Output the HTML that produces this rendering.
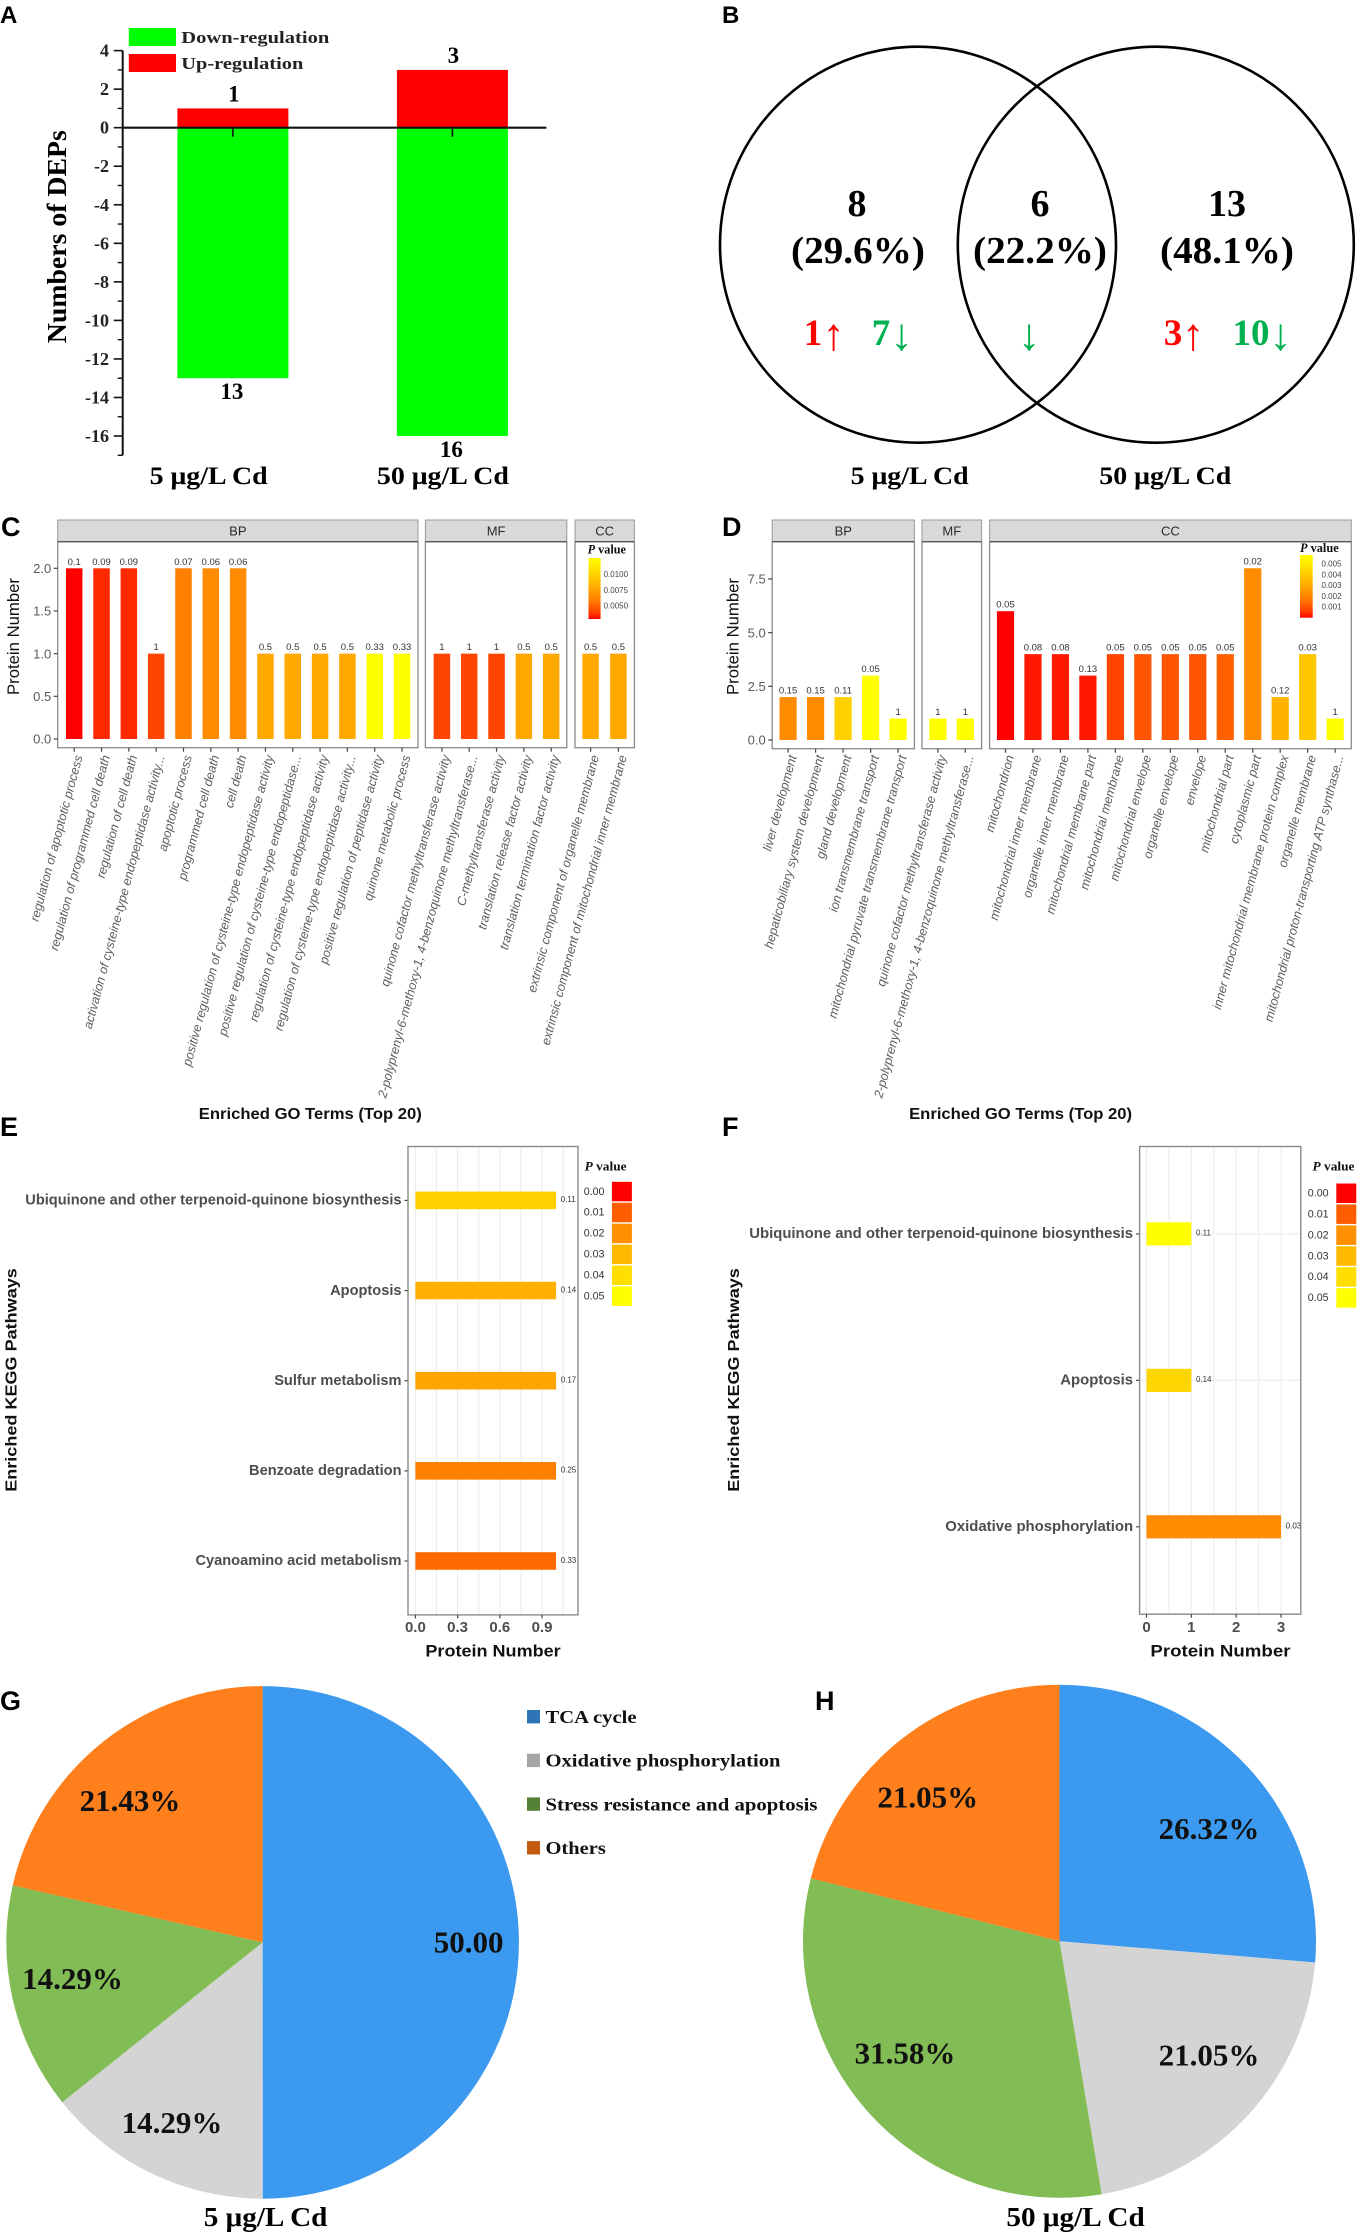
<!DOCTYPE html>
<html lang="en">
<head>
<meta charset="utf-8">
<title>Differentially expressed proteins under Cd exposure</title>
<style>
html,body{margin:0;padding:0;background:#fff;}
svg{display:block;filter:blur(0.35px);}
text{white-space:pre;}
</style>
</head>
<body>
<svg id="figure" xmlns="http://www.w3.org/2000/svg" width="1358" height="2232" viewBox="0 0 1358 2232">
  <defs id="gradients"></defs>
  <rect x="0" y="0" width="1358" height="2232" fill="#fff"></rect>

  <g font-family="'Liberation Sans', sans-serif" font-weight="700" fill="#000">
    <text x="0" y="23" font-size="24">A</text>
    <text x="722" y="23" font-size="24">B</text>
    <text x="1" y="536" font-size="27">C</text>
    <text x="722" y="536" font-size="27">D</text>
    <text x="0" y="1136" font-size="27">E</text>
    <text x="722" y="1136" font-size="27">F</text>
    <text x="0" y="1710" font-size="27">G</text>
    <text x="815" y="1710" font-size="27">H</text>
  </g>

  <g id="venn" font-family="'Liberation Serif', serif" font-weight="700" text-anchor="middle">
    <circle cx="918" cy="244.7" r="198" fill="none" stroke="#000" stroke-width="2.6"></circle>
    <circle cx="1155.8" cy="244.7" r="198" fill="none" stroke="#000" stroke-width="2.6"></circle>
    <text x="857" y="216" font-size="38">8</text>
    <text x="858" y="263" font-size="38" textLength="134" lengthAdjust="spacingAndGlyphs">(29.6%)</text>
    <text x="1040" y="216" font-size="38">6</text>
    <text x="1040" y="263" font-size="38" textLength="134" lengthAdjust="spacingAndGlyphs">(22.2%)</text>
    <text x="1227" y="216" font-size="38">13</text>
    <text x="1227" y="263" font-size="38" textLength="134" lengthAdjust="spacingAndGlyphs">(48.1%)</text>
    <text x="813" y="345" font-size="37" fill="#ff0000">1</text>
    <text x="833.5" y="349.5" font-size="45" fill="#ff0000" font-weight="400">↑</text>
    <text x="881" y="345" font-size="37" fill="#00b050">7</text>
    <text x="901.5" y="349.5" font-size="45" fill="#00b050" font-weight="400">↓</text>
    <text x="1029" y="349.5" font-size="45" fill="#00b050" font-weight="400">↓</text>
    <text x="1173" y="345" font-size="37" fill="#ff0000">3</text>
    <text x="1193" y="349.5" font-size="45" fill="#ff0000" font-weight="400">↑</text>
    <text x="1251" y="345" font-size="37" fill="#00b050">10</text>
    <text x="1280.5" y="349.5" font-size="45" fill="#00b050" font-weight="400">↓</text>
    <text x="909.6" y="484" font-size="25" textLength="118" lengthAdjust="spacingAndGlyphs">5 μg/L Cd</text>
    <text x="1165.3" y="484" font-size="25" textLength="132" lengthAdjust="spacingAndGlyphs">50 μg/L Cd</text>
  </g>
</svg>

<script>
/* ---------- Panel A data ---------- */
const aCategories = ['5 μg/L Cd', '50 μg/L Cd'];
const aUp = [1, 3];
const aDown = [13, 16];
const aTicks = [4, 2, 0, -2, -4, -6, -8, -10, -12, -14, -16];

/* ---------- Panel C data ---------- */
const cBpTerms = ['regulation of apoptotic process', 'regulation of programmed cell death', 'regulation of cell death', 'activation of cysteine-type endopeptidase activity...', 'apoptotic process', 'programmed cell death', 'cell death', 'positive regulation of cysteine-type endopeptidase activity', 'positive regulation of cysteine-type endopeptidase...', 'regulation of cysteine-type endopeptidase activity', 'regulation of cysteine-type endopeptidase activity...', 'positive regulation of peptidase activity', 'quinone metabolic process'];
const cBpCounts = [2, 2, 2, 1, 2, 2, 2, 1, 1, 1, 1, 1, 1];
const cBpRatios = ['0.1', '0.09', '0.09', '1', '0.07', '0.06', '0.06', '0.5', '0.5', '0.5', '0.5', '0.33', '0.33'];
const cBpPvalues = [0.0029, 0.0034, 0.0034, 0.0041, 0.0061, 0.0066, 0.0066, 0.0079, 0.0079, 0.0079, 0.0079, 0.0126, 0.0126];
const cMfTerms = ['quinone cofactor methyltransferase activity', '2-polyprenyl-6-methoxy-1, 4-benzoquinone methyltransferase...', 'C-methyltransferase activity', 'translation release factor activity', 'translation termination factor activity'];
const cMfCounts = [1, 1, 1, 1, 1];
const cMfRatios = ['1', '1', '1', '0.5', '0.5'];
const cMfPvalues = [0.0041, 0.0041, 0.0041, 0.0079, 0.0079];
const cCcTerms = ['extrinsic component of organelle membrane', 'extrinsic component of mitochondrial inner membrane'];
const cCcCounts = [1, 1];
const cCcRatios = ['0.5', '0.5'];
const cCcPvalues = [0.0079, 0.0079];
const cYTicks = [0, 0.5, 1, 1.5, 2];
const cLegendTicks = [0.01, 0.0075, 0.005];

/* ---------- Panel D data ---------- */
const dBpTerms = ['liver development', 'hepaticobiliary system development', 'gland development', 'ion transmembrane transport', 'mitochondrial pyruvate transmembrane transport'];
const dBpCounts = [2, 2, 2, 3, 1];
const dBpRatios = ['0.15', '0.15', '0.11', '0.05', '1'];
const dBpPvalues = [0.0022, 0.0022, 0.0042, 0.0058, 0.0058];
const dMfTerms = ['quinone cofactor methyltransferase activity', '2-polyprenyl-6-methoxy-1, 4-benzoquinone methyltransferase...'];
const dMfCounts = [1, 1];
const dMfRatios = ['1', '1'];
const dMfPvalues = [0.0058, 0.0058];
const dCcTerms = ['mitochondrion', 'mitochondrial inner membrane', 'organelle inner membrane', 'mitochondrial membrane part', 'mitochondrial membrane', 'mitochondrial envelope', 'organelle envelope', 'envelope', 'mitochondrial part', 'cytoplasmic part', 'inner mitochondrial membrane protein complex', 'organelle membrane', 'mitochondrial proton-transporting ATP synthase...'];
const dCcCounts = [6, 4, 4, 3, 4, 4, 4, 4, 4, 8, 2, 4, 1];
const dCcRatios = ['0.05', '0.08', '0.08', '0.13', '0.05', '0.05', '0.05', '0.05', '0.05', '0.02', '0.12', '0.03', '1'];
const dCcPvalues = [0, 0.00014, 0.00014, 0.00014, 0.0007, 0.00097, 0.00097, 0.00097, 0.0012, 0.0022, 0.00327, 0.0039, 0.0058];
const dYTicks = [0, 2.5, 5, 7.5];
const dLegendTicks = [0.005, 0.004, 0.003, 0.002, 0.001];

/* ---------- Panels E / F data ---------- */
const ePathways = ['Ubiquinone and other terpenoid-quinone biosynthesis', 'Apoptosis', 'Sulfur metabolism', 'Benzoate degradation', 'Cyanoamino acid metabolism'];
const eCounts = [1, 1, 1, 1, 1];
const eRatios = ['0.11', '0.14', '0.17', '0.25', '0.33'];
const ePvalues = [0.036, 0.0275, 0.0248, 0.0164, 0.0122];
const eXTicks = [0, 0.3, 0.6, 0.9];
const fPathways = ['Ubiquinone and other terpenoid-quinone biosynthesis', 'Apoptosis', 'Oxidative phosphorylation'];
const fCounts = [1, 1, 3];
const fRatios = ['0.11', '0.14', '0.03'];
const fPvalues = [0.05, 0.038, 0.019];
const fXTicks = [0, 1, 2, 3];
const keggLegendLevels = [0, 0.01, 0.02, 0.03, 0.04, 0.05];

/* ---------- Panels G / H data ---------- */
const pieCategories = ['TCA cycle', 'Oxidative phosphorylation', 'Stress resistance and apoptosis', 'Others'];
const gShares = [50.00, 14.29, 14.29, 21.43];
const gLabels = ['50.00', '14.29%', '14.29%', '21.43%'];
const hShares = [26.32, 21.05, 31.58, 21.05];
const hLabels = ['26.32%', '21.05%', '31.58%', '21.05%'];

/* ---------- Helpers ---------- */
const NS = 'http://www.w3.org/2000/svg';
const SERIF = '"Liberation Serif", serif';
const SANS = '"Liberation Sans", sans-serif';
const root = document.getElementById('figure');

function mk(parent, tag, props, name) {
  const el = document.createElementNS(NS, tag);
  for (const k in props) el.setAttribute(k, props[k]);
  
  
  parent.appendChild(el);
  return el;
}
function group(name, parent) {
  return mk(parent || root, 'g', {}, name);
}
function line(parent, x1, y1, x2, y2, stroke, w, name) {
  return mk(parent, 'line', { x1: x1, y1: y1, x2: x2, y2: y2, stroke: stroke, 'stroke-width': w }, name);
}
function rect(parent, x, y, w, h, fill, name, extra) {
  return mk(parent, 'rect', Object.assign({ x: x, y: y, width: w, height: h, fill: fill }, extra || {}), name);
}
function label(parent, str, x, y, o, name) {
  const p = {
    x: x, y: y,
    'font-family': o.family || SANS,
    'font-size': o.size,
    'font-weight': o.weight || 400,
    fill: o.fill || '#000',
    'text-anchor': o.anchor || 'start'
  };
  if (o.italic) p['font-style'] = 'italic';
  if (o.len) { p.textLength = o.len; p.lengthAdjust = 'spacingAndGlyphs'; }
  if (o.rotate) p.transform = 'rotate(' + o.rotate + ' ' + x + ' ' + y + ')';
  const t = mk(parent, 'text', p, name);
  t.textContent = str;
  return t;
}
function slug(s) {
  return String(s).toLowerCase().replace(/[^a-z0-9]+/g, '-').replace(/^-|-$/g, '');
}
/* red -> yellow ramp, t in 0..1 */
function ramp(t) {
  const c = Math.max(0, Math.min(1, t));
  const g = Math.round(255 * Math.pow(c, 0.62));
  return 'rgb(255,' + g + ',0)';
}
function pValueTitle(parent, x, y, len, size, name) {
  const t = label(parent, '', x, y, { family: SERIF, size: size, weight: 700, fill: '#111', len: len }, name);
  const a = document.createElementNS(NS, 'tspan');
  a.setAttribute('font-style', 'italic');
  a.textContent = 'P';
  t.appendChild(a);
  t.appendChild(document.createTextNode(' value'));
  return t;
}

/* ---------- Panel A ---------- */
(function () {
  const g = group('panel-a-bar-chart');
  const y0 = 127.7, unit = 19.27, axisX = 122.7;
  const yOf = v => y0 - v * unit;
  const cx = i => 232.9 + i * 219.5;
  const barW = 111;

  aCategories.forEach((cat, i) => {
    const ySlug = slug(cat);
    rect(g, cx(i) - barW / 2, y0, barW, yOf(-aDown[i]) - y0, '#00ff00', 'down-bar-' + ySlug);
    rect(g, cx(i) - barW / 2, yOf(aUp[i]), barW, y0 - yOf(aUp[i]), '#ff0000', 'up-bar-' + ySlug);
    label(g, String(aUp[i]), cx(i) + 1, yOf(aUp[i]) - 7, { family: SERIF, size: 23, weight: 700, anchor: 'middle' }, 'up-value-' + ySlug);
    label(g, String(aDown[i]), cx(i) - 1, yOf(-aDown[i]) + 21, { family: SERIF, size: 23, weight: 700, anchor: 'middle' }, 'down-value-' + ySlug);
    line(g, cx(i), y0, cx(i), y0 + 9, '#111', 1.6, 'x-tick-' + ySlug);
    label(g, cat, cx(i) - (i ? 9.5 : 24.3), 484, { family: SERIF, size: 25, weight: 700, anchor: 'middle', len: i ? 132 : 118 }, 'x-label-' + ySlug);
  });

  line(g, axisX, yOf(4), axisX, yOf(-17), '#111', 2, 'y-axis-line');
  line(g, axisX, y0, 546.4, y0, '#111', 2.2, 'zero-line');
  for (let v = 3; v >= -17; v -= 2) {
    line(g, axisX - 5, yOf(v), axisX, yOf(v), '#111', 1.4, 'y-minor-tick');
  }
  aTicks.forEach(v => {
    line(g, axisX - 9, yOf(v), axisX, yOf(v), '#111', 1.6, 'y-tick-' + slug(v));
    label(g, String(v), 109, yOf(v) + 6, { family: SERIF, size: 18, weight: 700, anchor: 'end', fill: '#222' }, 'y-tick-label');
  });
  label(g, 'Numbers of DEPs', 66, 236.7, { family: SERIF, size: 27, weight: 700, anchor: 'middle', rotate: -90, len: 213 }, 'y-axis-title');

  rect(g, 128.8, 28, 47.2, 18, '#00ff00', 'legend-swatch-down');
  label(g, 'Down-regulation', 181.3, 43, { family: SERIF, size: 17, weight: 700, fill: '#222', len: 148 }, 'legend-entry-down');
  rect(g, 128.8, 54, 47.2, 18, '#ff0000', 'legend-swatch-up');
  label(g, 'Up-regulation', 181.3, 69, { family: SERIF, size: 17, weight: 700, fill: '#222', len: 122 }, 'legend-entry-up');
})();

/* ---------- Panels C & D: faceted GO bars ---------- */
function goChart(cfg) {
  const g = group(cfg.name);
  const yOf = v => cfg.y0 - v * cfg.unit;
  const color = p => ramp((p - cfg.dom[0]) / (cfg.dom[1] - cfg.dom[0]));
  const top = 541.7, bottom = cfg.bottom;

  cfg.facets.forEach(f => {
    const fg = group('facet-' + f.label.toLowerCase(), g);
    rect(fg, f.x0, top, f.x1 - f.x0, bottom - top, '#fff', 'facet-panel', { stroke: '#8a8a8a', 'stroke-width': 1.3 });
    rect(fg, f.x0, 520, f.x1 - f.x0, top - 520, '#d9d9d9', 'facet-strip', { stroke: '#9a9a9a', 'stroke-width': 1 });
    line(fg, f.x0, top, f.x1, top, '#5a5a5a', 1.4, 'facet-strip-border');
    label(fg, f.label, (f.x0 + f.x1) / 2, 535.5, { size: 13, anchor: 'middle', fill: '#2a2a2a' }, 'facet-strip-label');
    f.terms.forEach((term, i) => {
      const cx = f.first + i * f.step;
      const ys = yOf(f.counts[i]);
      const n = slug(term);
      rect(fg, cx - cfg.barW / 2, ys, cfg.barW, cfg.y0 - ys, color(f.ps[i]), 'bar-' + n);
      label(fg, f.ratios[i], cx, ys - 3.5, { size: 9.5, anchor: 'middle', fill: '#333' }, 'bar-value-' + n);
      line(fg, cx, bottom, cx, bottom + 4, '#444', 1.2, 'x-tick-' + n);
      label(fg, term, cx + 8.5, 756.5, { size: 12.6, italic: true, anchor: 'end', fill: '#5e5e5e', rotate: -75 }, 'x-label-' + n);
    });
  });

  cfg.yTicks.forEach(v => {
    const s = v.toFixed(1);
    line(g, cfg.facets[0].x0 - 4, yOf(v), cfg.facets[0].x0, yOf(v), '#444', 1.2, 'y-tick-' + slug(s));
    label(g, s, cfg.facets[0].x0 - 6.5, yOf(v) + 4.6, { size: 13, anchor: 'end', fill: '#5a5a5a' }, 'y-tick-label');
  });
  label(g, 'Protein Number', cfg.yTitleX, 636.5, { size: 17, anchor: 'middle', rotate: -90, fill: '#111', len: 117 }, 'y-axis-title');
  label(g, 'Enriched GO Terms (Top 20)', cfg.titleX, 1119, { size: 16, weight: 700, anchor: 'middle', fill: '#111', len: 223 }, 'x-axis-title');

  /* continuous legend */
  const L = cfg.legend;
  const defs = document.getElementById('gradients');
  const grad = mk(defs, 'linearGradient', { id: cfg.name + '-grad', x1: 0, y1: 1, x2: 0, y2: 0 }, 'legend-gradient');
  for (let k = 0; k <= 10; k++) {
    mk(grad, 'stop', { offset: (k * 10) + '%', 'stop-color': ramp(k / 10) }, 'legend-gradient-stop');
  }
  pValueTitle(g, L.titleX, L.titleY, L.titleLen, 12.5, 'legend-title');
  rect(g, L.x, L.y, L.w, L.h, 'url(#' + cfg.name + '-grad)', 'legend-colorbar');
  cfg.legendTicks.forEach(p => {
    const y = L.y + L.h - (p - cfg.dom[0]) / (cfg.dom[1] - cfg.dom[0]) * L.h;
    label(g, p.toFixed(L.dec), L.labelX, y + 2.8, { size: 8, fill: '#444' }, 'legend-tick-label');
  });
}

goChart({
  name: 'panel-c-go-chart', y0: 739, unit: 85.35, bottom: 747.7, barW: 16.5,
  dom: [0.0029, 0.0126], yTicks: cYTicks, legendTicks: cLegendTicks, yTitleX: 19, titleX: 310.3,
  legend: { titleX: 587.6, titleY: 553.7, titleLen: 38.4, x: 588.5, y: 558, w: 12.1, h: 61, labelX: 603.6, dec: 4 },
  facets: [
    { label: 'BP', x0: 57.7, x1: 418, first: 74.2, step: 27.32, terms: cBpTerms, counts: cBpCounts, ratios: cBpRatios, ps: cBpPvalues },
    { label: 'MF', x0: 425.4, x1: 566.8, first: 441.9, step: 27.32, terms: cMfTerms, counts: cMfCounts, ratios: cMfRatios, ps: cMfPvalues },
    { label: 'CC', x0: 575, x1: 634.4, first: 590.6, step: 27.8, terms: cCcTerms, counts: cCcCounts, ratios: cCcRatios, ps: cCcPvalues }
  ]
});
goChart({
  name: 'panel-d-go-chart', y0: 740, unit: 21.47, bottom: 748.7, barW: 17.2,
  dom: [0, 0.0058], yTicks: dYTicks, legendTicks: dLegendTicks, yTitleX: 738.6, titleX: 1020.6,
  legend: { titleX: 1300, titleY: 552, titleLen: 38.7, x: 1300, y: 555, w: 12.7, h: 62.7, labelX: 1321.5, dec: 3 },
  facets: [
    { label: 'BP', x0: 772.2, x1: 914.4, first: 788.1, step: 27.5, terms: dBpTerms, counts: dBpCounts, ratios: dBpRatios, ps: dBpPvalues },
    { label: 'MF', x0: 922, x1: 981.6, first: 937.9, step: 27.4, terms: dMfTerms, counts: dMfCounts, ratios: dMfRatios, ps: dMfPvalues },
    { label: 'CC', x0: 989.6, x1: 1351.3, first: 1005.5, step: 27.47, terms: dCcTerms, counts: dCcCounts, ratios: dCcRatios, ps: dCcPvalues }
  ]
});

/* ---------- Panels E & F: KEGG bars ---------- */
function keggChart(cfg) {
  const g = group(cfg.name);
  const xOf = v => cfg.x0 + v * cfg.unit;
  const yOf = i => cfg.firstY + i * cfg.stepY;
  const top = 1146.5, bottom = cfg.bottom;
  const color = p => ramp(p / 0.05);

  for (let v = 0; v <= cfg.gridMax + 1e-9; v += cfg.gridStep) {
    line(g, xOf(v), top, xOf(v), bottom, '#ececec', 1.1, 'x-grid-line');
  }
  cfg.pathways.forEach((name, i) => {
    const n = slug(name);
    if (cfg.hGrid) line(g, cfg.boxL, yOf(i), cfg.boxR, yOf(i), '#ececec', 1.1, 'y-grid-line');
    rect(g, xOf(0), yOf(i) - cfg.barH / 2, xOf(cfg.counts[i]) - xOf(0), cfg.barH, color(cfg.ps[i]), 'bar-' + n);
    label(g, cfg.ratios[i], xOf(cfg.counts[i]) + 4.6, yOf(i) + 1.8, { size: 8, fill: '#333' }, 'bar-value-' + n);
    line(g, cfg.boxL - 3.5, yOf(i), cfg.boxL, yOf(i), '#444', 1.2, 'y-tick-' + n);
    label(g, name, cfg.boxL - 6.5, yOf(i) + 4.2, { size: cfg.catSize, weight: 700, anchor: 'end', fill: '#4d4d4d' }, 'y-label-' + n);
  });
  rect(g, cfg.boxL, top, cfg.boxR - cfg.boxL, bottom - top, 'none', 'plot-border', { stroke: '#8a8a8a', 'stroke-width': 1.4 });
  cfg.xTicks.forEach(v => {
    line(g, xOf(v), bottom, xOf(v), bottom + 3.5, '#444', 1.2, 'x-tick-' + slug(v));
    label(g, v.toFixed(cfg.tickDec), xOf(v), cfg.tickY, { size: 15, weight: 700, anchor: 'middle', fill: '#4d4d4d' }, 'x-tick-label');
  });
  label(g, 'Protein Number', (cfg.titleL + cfg.titleR) / 2, 1656.4, { size: 17, weight: 700, anchor: 'middle', fill: '#111', len: cfg.titleR - cfg.titleL }, 'x-axis-title');
  label(g, 'Enriched KEGG Pathways', cfg.yTitleX, 1380, { size: 16, weight: 700, anchor: 'middle', rotate: -90, fill: '#111', len: 223.6 }, 'y-axis-title');

  const L = cfg.legend;
  pValueTitle(g, L.titleX, 1170.5, 42, 12.5, 'legend-title');
  keggLegendLevels.forEach((p, i) => {
    const y = L.y + i * 20.93;
    rect(g, L.x, y, 20, 19.5, color(p), 'legend-swatch-' + slug(p.toFixed(2)));
    label(g, p.toFixed(2), L.labelX, y + 13, { size: 10.7, fill: '#333' }, 'legend-entry');
  });
}

keggChart({
  name: 'panel-e-kegg-chart', pathways: ePathways, counts: eCounts, ratios: eRatios, ps: ePvalues, xTicks: eXTicks,
  x0: 415.4, unit: 140.7, firstY: 1200.4, stepY: 90.15, barH: 17.6, boxL: 408, boxR: 578, bottom: 1614.9,
  gridStep: 0.15, gridMax: 1.05, hGrid: false, tickDec: 1, tickY: 1632, catSize: 14.6,
  titleL: 425.4, titleR: 560.7, yTitleX: 16.5,
  legend: { titleX: 584.6, x: 611.9, y: 1181.8, labelX: 583.7 }
});
keggChart({
  name: 'panel-f-kegg-chart', pathways: fPathways, counts: fCounts, ratios: fRatios, ps: fPvalues, xTicks: fXTicks,
  x0: 1146.5, unit: 44.85, firstY: 1233.9, stepY: 146.45, barH: 23.2, boxL: 1139.6, boxR: 1300.8, bottom: 1614.2,
  gridStep: 0.5, gridMax: 3, hGrid: true, tickDec: 0, tickY: 1632, catSize: 14.9,
  titleL: 1150.4, titleR: 1290.5, yTitleX: 738.8,
  legend: { titleX: 1312.5, x: 1336.3, y: 1183.5, labelX: 1307.8 }
});

/* ---------- Panels G & H: pies ---------- */
const pieFill = ['#3b99ef', '#d4d4d4', '#82bc55', '#fe7f1b'];
function pie(cfg) {
  const g = group(cfg.name);
  const total = cfg.shares.reduce((a, b) => a + b, 0);
  let start = 0;
  cfg.shares.forEach((v, i) => {
    const a0 = start / total * 2 * Math.PI;
    const a1 = (start + v) / total * 2 * Math.PI;
    const px = a => cfg.cx + cfg.r * Math.sin(a);
    const py = a => cfg.cy - cfg.r * Math.cos(a);
    const large = a1 - a0 > Math.PI ? 1 : 0;
    const n = slug(pieCategories[i]);
    mk(g, 'path', {
      d: 'M' + cfg.cx + ' ' + cfg.cy + 'L' + px(a0) + ' ' + py(a0) + 'A' + cfg.r + ' ' + cfg.r + ' 0 ' + large + ' 1 ' + px(a1) + ' ' + py(a1) + 'Z',
      fill: pieFill[i]
    }, 'slice-' + n);
    start += v;
  });
  start = 0;
  cfg.shares.forEach((v, i) => {
    const mid = (start + v / 2) / total * 2 * Math.PI;
    start += v;
    const lx = cfg.cx + 195 * Math.sin(mid) + cfg.nudge[i][0];
    const ly = cfg.cy - 195 * Math.cos(mid) + cfg.nudge[i][1] + 10;
    label(g, cfg.labels[i], lx, ly, { family: SERIF, size: 31, weight: 700, anchor: 'middle', fill: '#111' }, 'slice-label-' + slug(pieCategories[i]));
  });
  label(g, cfg.title, cfg.titleX, 2225.8, { family: SERIF, size: 27, weight: 700, anchor: 'middle', len: cfg.titleLen }, 'pie-title');
}
pie({
  name: 'panel-g-pie', cx: 262.6, cy: 1942.4, r: 256.3, shares: gShares, labels: gLabels,
  nudge: [[11, 0], [-6, 5], [0, -7], [-11, 11]], title: '5 μg/L Cd', titleX: 265.6, titleLen: 123.6
});
pie({
  name: 'panel-h-pie', cx: 1059.5, cy: 1941.2, r: 256.5, shares: hShares, labels: hLabels,
  nudge: [[6, 20], [6, -18], [-11, -20], [-12, 10]], title: '50 μg/L Cd', titleX: 1075.6, titleLen: 138.4
});

/* shared pie legend */
(function () {
  const g = group('pie-legend');
  const swatchFill = ['#2e75b6', '#a5a5a5', '#548235', '#c55a11'];
  const lens = [91, 235, 272, 60.3];
  pieCategories.forEach((cat, i) => {
    const y = 1710 + i * 43.7;
    rect(g, 527, y, 13, 13.4, swatchFill[i], 'legend-swatch-' + slug(cat));
    label(g, cat, 545.5, y + 13, { family: SERIF, size: 17.5, weight: 700, fill: '#111', len: lens[i] }, 'legend-entry-' + slug(cat));
  });
})();
</script>
</body>
</html>
